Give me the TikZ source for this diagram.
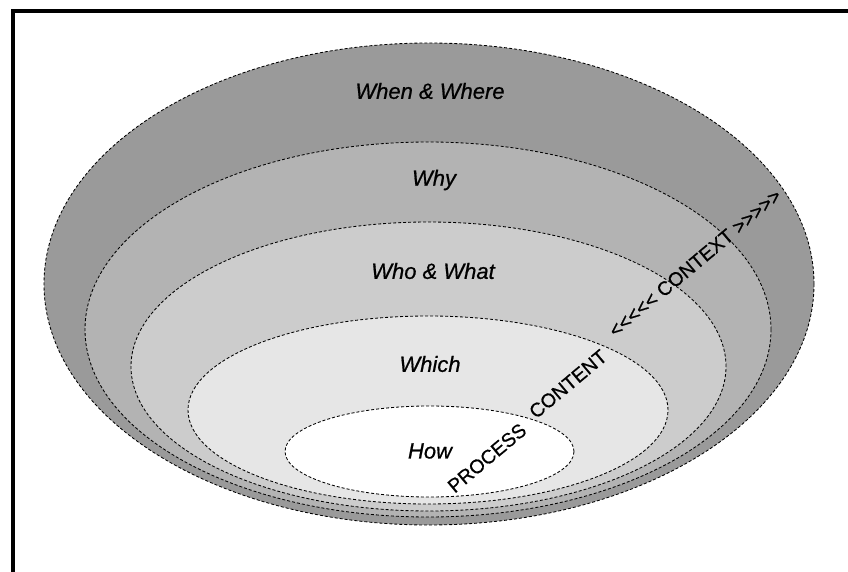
\documentclass[tikz,border=0pt]{standalone}
\usepackage{fontspec}
\setmainfont{Liberation Sans}
\newfontfamily\labelfont{Liberation Sans}[FakeBold=0.7]
\begin{document}
\begin{tikzpicture}[x=1pt,y=-1pt,
  ring/.style={draw=black,line width=0.85pt,dash pattern=on 3pt off 2pt},
  level/.style={font=\labelfont\itshape\fontsize{22}{26}\selectfont,inner sep=0pt},
  slant/.style={font=\labelfont\fontsize{19.5}{23}\selectfont,inner sep=0pt,rotate=40}]
\useasboundingbox (0,0) rectangle (848,572);
% frame
\draw[line width=3.8pt,line join=miter] (12.7,574) -- (12.7,11) -- (850,11);
% nested levels, outermost first
\definecolor{lvA}{HTML}{9A9A9A}
\definecolor{lvB}{HTML}{B3B3B3}
\definecolor{lvC}{HTML}{CCCCCC}
\definecolor{lvD}{HTML}{E6E6E6}
\filldraw[ring,fill=lvA] (429,284) ellipse [x radius=385pt,y radius=241pt];
\filldraw[ring,fill=lvB] (428,329.5) ellipse [x radius=343pt,y radius=187.5pt];
\filldraw[ring,fill=lvC] (428.5,366.5) ellipse [x radius=297.5pt,y radius=144.5pt];
\filldraw[ring,fill=lvD] (428,410) ellipse [x radius=240pt,y radius=94pt];
\filldraw[ring,fill=white] (429.5,451.5) ellipse [x radius=144.5pt,y radius=45.5pt];
% level labels
\node[level] (whenwhere) at (430,91) {When \& Where};
\node[level] (why) at (434,180) {Why};
\node[level] (whowhat) at (433,271) {Who \& What};
\node[level] (which) at (430,364) {Which};
\node[level] (how) at (430,451) {How};
% diagonal labels
\node[slant] (process) at (487,458) {PROCESS};
\node[slant] (content) at (568,384) {CONTENT};
\node[slant] (context) at (695,263) {<\kern0pt<\kern0pt<\kern0pt<\kern0pt< CONTEXT >\kern0pt>\kern0pt>\kern0pt>\kern0pt>};
\end{tikzpicture}
\end{document}
